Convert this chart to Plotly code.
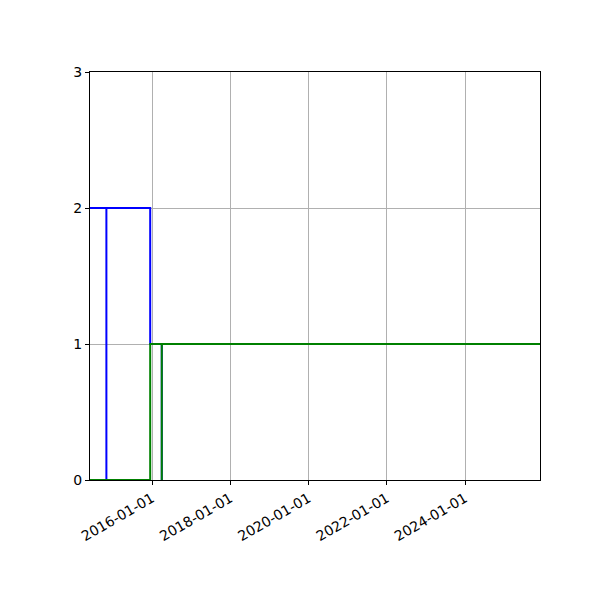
import plotly.graph_objects as go

# step series (value holds until next date)
step_dates = ['2014-06-01', '2015-12-15', '2025-12-01']
blue_values = [2, 1, 1]
green_values = [0, 1, 1]

# single events drawn as vertical lines from 0
blue_event_dates = ['2014-11-01', '2016-04-01']
blue_event_heights = [2, 1]
green_event_dates = ['2016-04-01']
green_event_heights = [1]

x_ticks = ['2016-01-01', '2018-01-01', '2020-01-01', '2022-01-01', '2024-01-01']
y_ticks = [0, 1, 2, 3]
x_limits = ['2014-06-01', '2025-12-01']


def stems(dates, heights):
    """Build x/y lists for vertical lines from 0 up to each height."""
    xs, ys = [], []
    for d, h in zip(dates, heights):
        xs += [d, d, None]
        ys += [0, h, None]
    return xs, ys


fig = go.Figure()

bx, by = stems(blue_event_dates, blue_event_heights)
gx, gy = stems(green_event_dates, green_event_heights)

fig.add_trace(go.Scatter(x=step_dates, y=blue_values, mode='lines',
                         line=dict(color='#0000ff', width=2, shape='hv')))
fig.add_trace(go.Scatter(x=bx, y=by, mode='lines',
                         line=dict(color='#0000ff', width=2)))
fig.add_trace(go.Scatter(x=step_dates, y=green_values, mode='lines',
                         line=dict(color='#008000', width=2, shape='hv')))
fig.add_trace(go.Scatter(x=gx, y=gy, mode='lines',
                         line=dict(color='#008000', width=2)))

axis_style = dict(showline=True, linecolor='black', linewidth=1, mirror=True,
                  ticks='outside', ticklen=4, tickcolor='black',
                  showgrid=True, gridcolor='#b0b0b0', gridwidth=0.8,
                  zeroline=False, tickfont=dict(size=14, color='black'))

fig.update_xaxes(type='date', range=x_limits, tickvals=x_ticks, ticktext=x_ticks,
                 tickangle=-30, **axis_style)
fig.update_yaxes(range=[0, 3], tickvals=y_ticks, **axis_style)

# page has an 8px body margin, so shift the plot box up/left by that much
fig.update_layout(width=600, height=600, showlegend=False,
                  margin=dict(l=82, r=68, t=64, b=128),
                  plot_bgcolor='white', paper_bgcolor='white',
                  font=dict(family='DejaVu Sans', color='black'))

fig.write_html('out.html')
